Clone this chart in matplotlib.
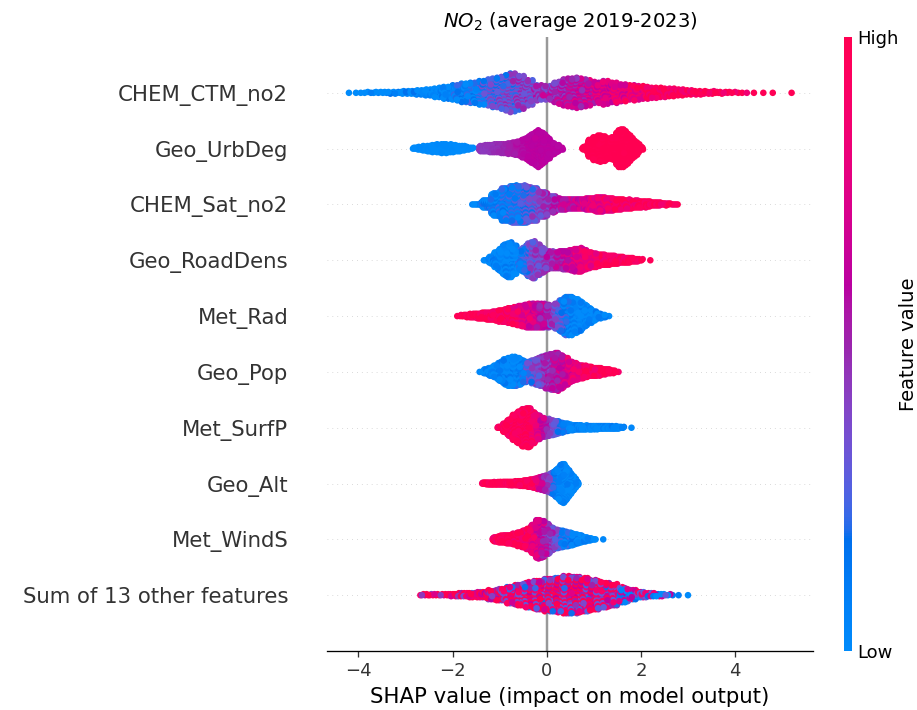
import numpy as np
import matplotlib
matplotlib.use("Agg")
import matplotlib.pyplot as plt
from matplotlib.colors import LinearSegmentedColormap

# ---------------------------------------------------------------- data ----
FEATURES = ["CHEM_CTM_no2", "Geo_UrbDeg", "CHEM_Sat_no2", "Geo_RoadDens",
            "Met_Rad", "Geo_Pop", "Met_SurfP", "Geo_Alt", "Met_WindS",
            "Sum of 13 other features"]
N_SAMPLES = 1500
X_TICKS = [-4, -2, 0, 2, 4]
TITLE = "$NO_2$ (average 2019-2023)"
X_LABEL = "SHAP value (impact on model output)"
CBAR_LABEL = "Feature value"
CBAR_TICKLABELS = ["Low", "High"]

# For each feature: SHAP-value histogram read off the swarm (first bin centre,
# bin width, relative number of points per bin) and the mean feature value
# (0 = low / blue, 1 = high / red) of the points in each bin.
chem_ctm_start, chem_ctm_step = -4.2, 0.2
chem_ctm_density = [0.05, 0.3, 0.5, 0.7, 0.9, 1.2, 1.6, 2.2, 3.0, 4.5, 6.0,
                    7.5, 9.5, 10.5, 12, 14, 16, 19.5, 17, 12.5, 7.5,
                    7, 11, 14, 15, 13.5, 10.5, 11.5, 10, 8.5, 7.5, 6.5, 5.5,
                    4.8, 4, 3.3, 2.6, 2.0, 1.6, 1.2, 0.9, 0.6, 0.4, 0.2, 0.15,
                    0.1, 0, 0.05]
chem_ctm_value = [0.0] * 11 + [0.05, 0.08, 0.13, 0.19, 0.25, 0.3, 0.34, 0.38,
                               0.42, 0.46, 0.5, 0.53, 0.57, 0.61, 0.64, 0.68,
                               0.72, 0.76, 0.8, 0.84, 0.87, 0.9, 0.93, 0.95] \
    + [0.98] * 13
chem_ctm_spread = 0.18

geo_urbdeg_start, geo_urbdeg_step = -2.8, 0.1
geo_urbdeg_density = [1.0, 1.8, 2.5, 3.2, 3.8, 4.2, 4.6, 4.2, 3.8, 3.2, 2.5,
                      1.8, 0.8, 0,
                      3.0, 3.5, 4.0, 4.2, 4.6, 5.0, 5.5, 6.5, 7.5, 9.5, 12.5,
                      15.5, 18.5, 15.5, 11.5, 6.5, 4.0, 1.5,
                      0, 0, 0, 0,
                      2.0, 9.0, 12.0, 13.5, 12.5, 10.0, 12.0, 18.5, 19.5,
                      15.5, 10.5, 6.5, 2.0]
geo_urbdeg_value = [0.0] * 14 + [0.44, 0.45, 0.46, 0.47, 0.48, 0.5, 0.52,
                                 0.54, 0.56, 0.58] + [0.6] * 8 + [0.6] * 4 \
    + [1.0] * 13
geo_urbdeg_spread = 0.02

chem_sat_start, chem_sat_step = -1.5, 0.2
chem_sat_density = [0.5, 4.0, 11.5, 16.5, 18.5, 18.5, 16.5, 12.5, 8.0, 5.5,
                    5.0, 5.0, 6.0, 7.5, 6.5, 5.5, 4.5, 3.8, 3.0, 2.0, 1.2, 0.5]
chem_sat_value = [0.05, 0.06, 0.1, 0.14, 0.19, 0.24, 0.32, 0.42, 0.5, 0.58,
                  0.64, 0.7, 0.76, 0.82, 0.87, 0.91, 0.94] + [0.97] * 5
chem_sat_spread = 0.15

geo_road_start, geo_road_step = -1.3, 0.1
geo_road_density = [0.5, 3.5, 7.5, 11.5, 16, 17.5, 15, 10, 12, 16.5, 18.5,
                    15.5, 12.5, 9.5, 8.5, 8.5, 9, 9.5, 10.5, 11.5, 12, 10, 8,
                    7, 6, 5.5, 5, 4.3, 3.8, 3.2, 2.7, 2.2, 1.5, 0.8, 0, 0.1,
                    0]
geo_road_value = [0.02] * 7 + [0.1, 0.2, 0.28, 0.33, 0.38, 0.43, 0.48, 0.52,
                               0.56, 0.6, 0.64, 0.68, 0.72, 0.76, 0.8, 0.84,
                               0.87, 0.9, 0.93] + [0.97] * 11
geo_road_spread = 0.14

met_rad_start, met_rad_step = -1.9, 0.1
met_rad_density = [0.2, 0.8, 1.4, 1.9, 2.4, 2.9, 3.4, 3.9, 4.4, 5.4, 6.4, 7.4,
                   8.4, 9.4, 10.4, 11.4, 11.4, 11.4, 11.4, 10.9, 9.9, 12.4,
                   15.4, 18.4, 18.4, 16.4, 14.4, 10.4, 7.4, 4.4, 2.4, 1.4,
                   0.3]
met_rad_value = [0.98] * 10 + [0.95, 0.92, 0.88, 0.84, 0.8, 0.75, 0.7, 0.64,
                               0.58, 0.5, 0.42, 0.32, 0.22, 0.14, 0.08] \
    + [0.03] * 8
met_rad_spread = 0.14

geo_pop_start, geo_pop_step = -1.4, 0.1
geo_pop_density = [0.4, 2.4, 4.4, 6.4, 9.4, 12.4, 13.9, 14.4, 13.4, 10.9,
                   9.4, 11.4, 13.4, 14.9, 16.4, 17.9, 18.4, 16.4, 13.4, 10.4,
                   8.4, 6.9, 5.9, 4.9, 4.4, 3.9, 2.9, 2.4, 1.4, 0.4]
geo_pop_value = [0.03] * 8 + [0.08, 0.15, 0.25, 0.32, 0.38, 0.44, 0.5, 0.55,
                              0.6, 0.66, 0.72, 0.78, 0.84, 0.88, 0.92, 0.95] \
    + [0.98] * 6
geo_pop_spread = 0.14

met_surfp_start, met_surfp_step = -1.0, 0.1
met_surfp_density = [0.9, 4.4, 8.4, 12.4, 15.9, 18.4, 19.4, 15.4, 11.9, 9.4,
                     8.4, 7.4, 6.4, 4.9, 3.9, 2.9, 2.4, 2.2, 2.0, 1.9, 1.8,
                     1.7, 1.6, 1.5, 1.4, 1.2, 0.6, 0, 0.1]
met_surfp_value = [0.97] * 7 + [0.9, 0.78, 0.64, 0.5, 0.38, 0.27, 0.18,
                                0.1] + [0.03] * 14
met_surfp_spread = 0.1

geo_alt_start, geo_alt_step = -1.35, 0.05
geo_alt_density = [0.8, 1.0, 1.1, 1.2, 1.3, 1.4, 1.4, 1.5, 1.5, 1.6, 1.7, 1.8,
                   1.9, 2.0, 2.2, 2.4, 2.6, 2.9, 3.2, 3.6, 4.0, 4.5, 5.0, 5.8,
                   6.4, 7.2, 7.8,
                   8.4, 9.4, 10.9, 12.4, 14.4, 16.9, 19.4, 20.4, 17.4, 14.4,
                   10.9, 7.9, 4.9, 1.9]
geo_alt_value = [0.98] * 20 + [0.94, 0.9, 0.85, 0.8, 0.72, 0.64, 0.55, 0.45,
                               0.35, 0.25, 0.15, 0.08] + [0.03] * 9
geo_alt_spread = 0.1

met_winds_start, met_winds_step = -1.1, 0.1
met_winds_density = [2.4, 3.4, 3.9, 4.4, 5.4, 6.9, 8.4, 10.4, 14.4, 19.4,
                     18.4, 15.4, 11.4, 9.4, 8.4, 7.4, 6.4, 4.9, 3.9, 2.4,
                     1.4, 0.4, 0, 0.1]
met_winds_value = [0.97] * 6 + [0.93, 0.88, 0.8, 0.72, 0.62, 0.52, 0.42,
                                0.32, 0.22, 0.14, 0.08] + [0.03] * 7
met_winds_spread = 0.15

sum_other_start, sum_other_step = -2.6, 0.2
sum_other_density = [0.9, 0.9, 0.9, 1.4, 1.9, 2.4, 2.9, 4.4, 5.9, 8.4, 10.4,
                     12.4, 14.4, 15.9, 16.9, 18.4, 17.9, 16.4, 14.4, 12.4,
                     10.4, 7.4, 4.9, 2.9, 1.9, 1.4, 0.6, 0.1, 0.1]
sum_other_value = [0.9] * 8 + [0.78] * 11 + [0.7, 0.62, 0.55, 0.45, 0.4, 0.35,
                                             0.3, 0.3, 0.1, 0.0]
sum_other_spread = 0.6

ROWS = [
    (chem_ctm_start, chem_ctm_step, chem_ctm_density, chem_ctm_value, chem_ctm_spread),
    (geo_urbdeg_start, geo_urbdeg_step, geo_urbdeg_density, geo_urbdeg_value, geo_urbdeg_spread),
    (chem_sat_start, chem_sat_step, chem_sat_density, chem_sat_value, chem_sat_spread),
    (geo_road_start, geo_road_step, geo_road_density, geo_road_value, geo_road_spread),
    (met_rad_start, met_rad_step, met_rad_density, met_rad_value, met_rad_spread),
    (geo_pop_start, geo_pop_step, geo_pop_density, geo_pop_value, geo_pop_spread),
    (met_surfp_start, met_surfp_step, met_surfp_density, met_surfp_value, met_surfp_spread),
    (geo_alt_start, geo_alt_step, geo_alt_density, geo_alt_value, geo_alt_spread),
    (met_winds_start, met_winds_step, met_winds_density, met_winds_value, met_winds_spread),
    (sum_other_start, sum_other_step, sum_other_density, sum_other_value, sum_other_spread),
]


# ------------------------------------------------------- SHAP colormap ----
def lch2rgb(l, c, h):
    a, b = c * np.cos(h), c * np.sin(h)
    fy = (l + 16.0) / 116.0
    f = np.array([a / 500.0 + fy, fy, fy - b / 200.0])
    t = np.where(f > 0.2068966, f ** 3, (f - 16.0 / 116.0) / 7.787)
    xyz = t * np.array([0.95047, 1.0, 1.08883])
    m = np.array([[3.24048134, -1.53715152, -0.49853633],
                  [-0.96925495, 1.87599, 0.04155593],
                  [0.05564664, -0.20404134, 1.05731107]])
    rgb = m @ xyz
    rgb = np.where(rgb > 0.0031308,
                   1.055 * np.power(np.clip(rgb, 0.0031308, None), 1 / 2.4) - 0.055,
                   12.92 * rgb)
    return np.clip(rgb, 0, 1)


nsteps = 100
l_vals = list(np.linspace(54.0, 40.0, nsteps // 2)) + list(np.linspace(40.0, 54.0, nsteps // 2))
c_vals = np.linspace(70.0, 90.0, nsteps)
h_vals = np.linspace(4.6588, 0.35470565 + 2 * np.pi, nsteps)
cols = [lch2rgb(l, c, h) for l, c, h in zip(l_vals, c_vals, h_vals)]
red_blue = LinearSegmentedColormap.from_list("red_blue", list(zip(np.linspace(0, 1, nsteps), cols)))


# --------------------------------------------------------------- helpers ----
def expand(start, step, density, value, spread):
    density = np.asarray(density, float)
    counts = np.where(density > 0,
                      np.maximum(1, np.round(density / density.sum() * N_SAMPLES)),
                      0).astype(int)
    xs, cs = [], []
    for k, (n, v) in enumerate(zip(counts, value)):
        if n == 0:
            continue
        centre = start + k * step
        j = np.arange(n)
        xs.append(centre - step / 2 + (j + 0.5) * step / n)
        off = ((j * 0.6180339887 + 0.5) % 1.0) * 2 - 1
        cs.append(np.clip(v + spread * off, 0, 1))
    return np.concatenate(xs), np.concatenate(cs)


def swarm(x, row_height=0.4, nbins=100):
    quant = np.round(nbins * (x - x.min()) / (x.max() - x.min() + 1e-8))
    inds = np.argsort(quant, kind="stable")
    ys = np.zeros(len(x))
    layer, last = 0, -1
    for i in inds:
        if quant[i] != last:
            layer = 0
        ys[i] = np.ceil(layer / 2) * ((layer % 2) * 2 - 1)
        layer += 1
        last = quant[i]
    ys *= 0.9 * (row_height / np.max(ys + 1))
    return ys


# ------------------------------------------------------------------ plot ----
S = 1.18  # size scale
fig = plt.figure(figsize=(9.17, 7.10), dpi=100)
ax = fig.add_axes([326.7 / 917, 59.0 / 710, 486.6 / 917, 614.0 / 710])

n_rows = len(FEATURES)
ax.axvline(0, color="#999999", lw=1.5 * S, zorder=-1)
for i, row in enumerate(ROWS):
    pos = n_rows - 1 - i
    ax.axhline(pos, color="#cccccc", lw=0.5 * S, dashes=(1, 5), zorder=-1)
    x, c = expand(*row)
    y = pos + swarm(x)
    order = np.argsort((np.arange(len(x)) * 0.7548776662) % 1.0)
    ax.scatter(x[order], y[order], c=c[order], cmap=red_blue, vmin=0, vmax=1,
               s=16 * S * S, linewidths=0, alpha=1, zorder=3, rasterized=True)

ax.set_ylim(-1, n_rows)
ax.set_xlim(-4.672, 5.661)
ax.set_yticks(range(n_rows))
ax.set_yticklabels(FEATURES[::-1], fontsize=13 * S)
ax.set_xticks(X_TICKS)
ax.set_xticklabels([f"{t}".replace("-", "\u2212") for t in X_TICKS])
ax.xaxis.set_ticks_position("bottom")
ax.yaxis.set_ticks_position("none")
for sp in ("right", "top", "left"):
    ax.spines[sp].set_visible(False)
ax.spines["bottom"].set_linewidth(0.8 * S)
ax.tick_params(color="#333333", labelcolor="#333333")
ax.tick_params("y", length=0, pad=23.5 * S)
ax.tick_params("x", labelsize=11 * S, length=3.5 * S, width=0.8 * S, pad=3.5 * S)
ax.set_xlabel(X_LABEL, fontsize=13 * S, labelpad=4 * S)
ax.set_title(TITLE, fontsize=12 * S, pad=6 * S)

cax = fig.add_axes([844.0 / 917, 59.0 / 710, 8.0 / 917, 614.0 / 710])
sm = matplotlib.cm.ScalarMappable(cmap=red_blue)
sm.set_array([0, 1])
cb = fig.colorbar(sm, cax=cax, ticks=[0, 1])
cb.set_ticklabels(CBAR_TICKLABELS)
cb.set_label(CBAR_LABEL, size=12 * S, labelpad=0)
cb.ax.tick_params(labelsize=11 * S, length=0, pad=3.5 * S)
cb.outline.set_visible(False)

fig.savefig("out.png", dpi=100)
